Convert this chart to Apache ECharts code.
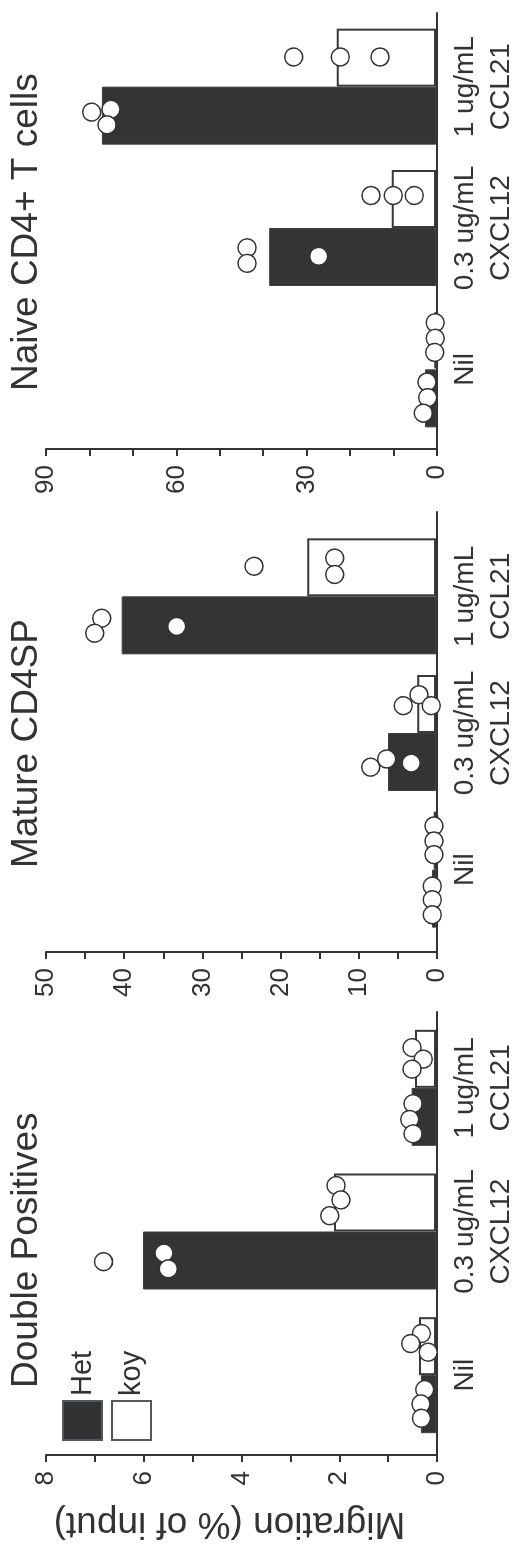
<!DOCTYPE html>
<html><head><meta charset="utf-8">
<script src="https://cdn.jsdelivr.net/npm/echarts/dist/echarts.min.js"></script>
<style>
html,body{margin:0;padding:0;width:519px;height:1545px;overflow:hidden;background:#fff;}
#chart{position:absolute;left:0;top:0;width:1545px;height:519px;transform-origin:0 0;transform:translate(0,1545px) rotate(-90deg);}
</style></head><body><div id="chart"></div>
<script>
// ---------- data ----------
const categories = ['Nil', '0.3 ug/mL\nCXCL12', '1 ug/mL\nCCL21'];
const groups = ['Het', 'koy'];
const panelTitles = ['Double Positives', 'Mature CD4SP', 'Naive CD4+ T cells'];
const axisTitle = 'Migration (% of input)';

// bar heights (mean) per category
const dpHet = [0.31, 6.01, 0.50];
const dpKoy = [0.35, 2.09, 0.43];
const cd4spHet = [0.5, 6.15, 40.3];
const cd4spKoy = [0.3, 2.4, 16.5];
const naiveHet = [2.54, 38.5, 77.1];
const naiveKoy = [0.4, 10.2, 22.9];

// individual points: [category position (index + jitter), value]
const dpHetPts = [[-0.10,0.23],[-0.20,0.31],[-0.30,0.30],[0.79,6.82],[0.85,5.58],[0.74,5.49],[1.89,0.47],[1.78,0.54],[1.68,0.47]];
const dpKoyPts = [[0.29,0.30],[0.22,0.52],[0.16,0.16],[1.32,2.05],[1.22,1.95],[1.11,2.18],[2.28,0.49],[2.20,0.26],[2.13,0.49]];
const cd4spHetPts = [[-0.12,0.47],[-0.22,0.47],[-0.33,0.47],[0.75,8.37],[0.81,6.32],[0.78,3.17],[1.84,42.86],[1.73,43.76],[1.78,33.24]];
const cd4spKoyPts = [[0.32,0.26],[0.21,0.26],[0.11,0.26],[1.20,4.19],[1.28,2.18],[1.20,0.6],[2.22,23.33],[2.28,12.99],[2.16,12.99]];
const naiveHetPts = [[-0.09,2.08],[-0.20,1.92],[-0.31,2.92],[0.86,43.6],[0.75,43.6],[0.80,27.07],[1.82,79.46],[1.84,75.0],[1.73,75.9]];
const naiveKoyPts = [[0.33,0.2],[0.22,0.2],[0.12,0.3],[1.23,15.0],[1.23,9.85],[1.23,5.0],[2.21,32.84],[2.21,22.08],[2.21,12.92]];

// value-axis tick labels
const dpTicks = [0, 2, 4, 6, 8];
const cd4spTicks = [0, 10, 20, 30, 40, 50];
const naiveTicks = [0, 30, 60, 90];

// ---------- layout & style ----------
const FONT = "'Liberation Sans', Arial, Helvetica, sans-serif";
const INK = '#333333';
const panels = [
  {title: panelTitles[0], het: dpHet, koy: dpKoy, hetPts: dpHetPts, koyPts: dpKoyPts, ticks: dpTicks, step: 1},
  {title: panelTitles[1], het: cd4spHet, koy: cd4spKoy, hetPts: cd4spHetPts, koyPts: cd4spKoyPts, ticks: cd4spTicks, step: 5},
  {title: panelTitles[2], het: naiveHet, koy: naiveKoy, hetPts: naiveHetPts, koyPts: naiveKoyPts, ticks: naiveTicks, step: 10}
];
const layout = [
  {frameLeft: 90, frameWidth: 443, dataLeft: 98, dataWidth: 431, titleLeft: 157},
  {frameLeft: 593, frameWidth: 440, dataLeft: 607, dataWidth: 410, titleLeft: 677},
  {frameLeft: 1096, frameWidth: 436, dataLeft: 1105, dataWidth: 424, titleLeft: 1154}
];
const TOP = 46, PLOT_H = 391;

const grid = [], xAxis = [], yAxis = [], series = [], title = [];
panels.forEach((p, i) => {
  const L = layout[i];
  const maxV = p.ticks[p.ticks.length - 1];
  grid.push({left: L.frameLeft, top: TOP, width: L.frameWidth, height: PLOT_H});
  grid.push({left: L.dataLeft, top: TOP, width: L.dataWidth, height: PLOT_H});
  const g0 = 2 * i, g1 = 2 * i + 1;
  xAxis.push({gridIndex: g0, type: 'category', data: categories,
    axisLine: {show: true, lineStyle: {color: INK, width: 2}},
    axisTick: {show: false}, axisLabel: {show: false}, splitLine: {show: false}});
  const xCat = xAxis.length;
  xAxis.push({gridIndex: g1, type: 'category', data: categories,
    axisLine: {show: false}, axisTick: {show: false}, splitLine: {show: false},
    axisLabel: {show: true, interval: 0, fontSize: 28, lineHeight: 36, color: INK, fontFamily: FONT, margin: 11}});
  const xVal = xAxis.length;
  xAxis.push({gridIndex: g1, type: 'value', min: -0.5, max: 2.5, show: false});
  const yF = {gridIndex: g0, type: 'value', min: 0, max: maxV, interval: p.step,
    axisLine: {show: true, lineStyle: {color: INK, width: 2}},
    axisTick: {show: true, length: 7, lineStyle: {color: INK, width: 2}},
    axisLabel: {fontSize: 26, color: INK, fontFamily: FONT, margin: 16,
      formatter: v => p.ticks.includes(v) ? String(v) : ''},
    splitLine: {show: false}};
  if (i === 0) {
    Object.assign(yF, {name: axisTitle, nameLocation: 'middle', nameGap: 50, nameRotate: 90,
      nameTextStyle: {fontSize: 37, color: INK, fontFamily: FONT, padding: [0, 0, 0, 24]}});
  }
  yAxis.push(yF);
  const yData = yAxis.length;
  yAxis.push({gridIndex: g1, type: 'value', min: 0, max: maxV, show: false});
  series.push({name: groups[0], type: 'bar', xAxisIndex: xCat, yAxisIndex: yData, data: p.het,
    barWidth: 58, barGap: '0%', itemStyle: {color: '#333436', borderColor: '#3d3e40', borderWidth: 1}, z: 2});
  series.push({name: groups[1], type: 'bar', xAxisIndex: xCat, yAxisIndex: yData, data: p.koy,
    barWidth: 58, barGap: '0%', itemStyle: {color: '#ffffff', borderColor: '#38393b', borderWidth: 2}, z: 2});
  series.push({name: groups[0] + ' points', type: 'scatter', xAxisIndex: xVal, yAxisIndex: yData, data: p.hetPts,
    symbol: 'circle', symbolSize: 18, itemStyle: {color: '#ffffff', borderColor: '#333333', borderWidth: 1.5, opacity: 1}, z: 5});
  series.push({name: groups[1] + ' points', type: 'scatter', xAxisIndex: xVal, yAxisIndex: yData, data: p.koyPts,
    symbol: 'circle', symbolSize: 18, itemStyle: {color: '#ffffff', borderColor: '#333333', borderWidth: 1.5, opacity: 1}, z: 5});
  title.push({text: p.title, left: L.titleLeft, top: 8, padding: 0,
    textStyle: {fontSize: 37, fontWeight: 'normal', color: INK, fontFamily: FONT}});
});

const chart = echarts.init(document.getElementById('chart'), null, {renderer: 'canvas'});
chart.setOption({
  animation: false,
  backgroundColor: '#ffffff',
  title: title,
  legend: {
    data: [
      {name: groups[0], itemStyle: {color: '#303234', borderColor: '#53585c', borderWidth: 2}},
      {name: groups[1], itemStyle: {color: '#ffffff', borderColor: '#53585c', borderWidth: 2}}
    ],
    orient: 'vertical', left: 104, top: 62, itemWidth: 39, itemHeight: 39, itemGap: 8,
    icon: 'rect', padding: 0, selectedMode: false,
    textStyle: {fontSize: 29, color: INK, fontFamily: FONT}
  },
  grid: grid, xAxis: xAxis, yAxis: yAxis, series: series
});
</script></body></html>
